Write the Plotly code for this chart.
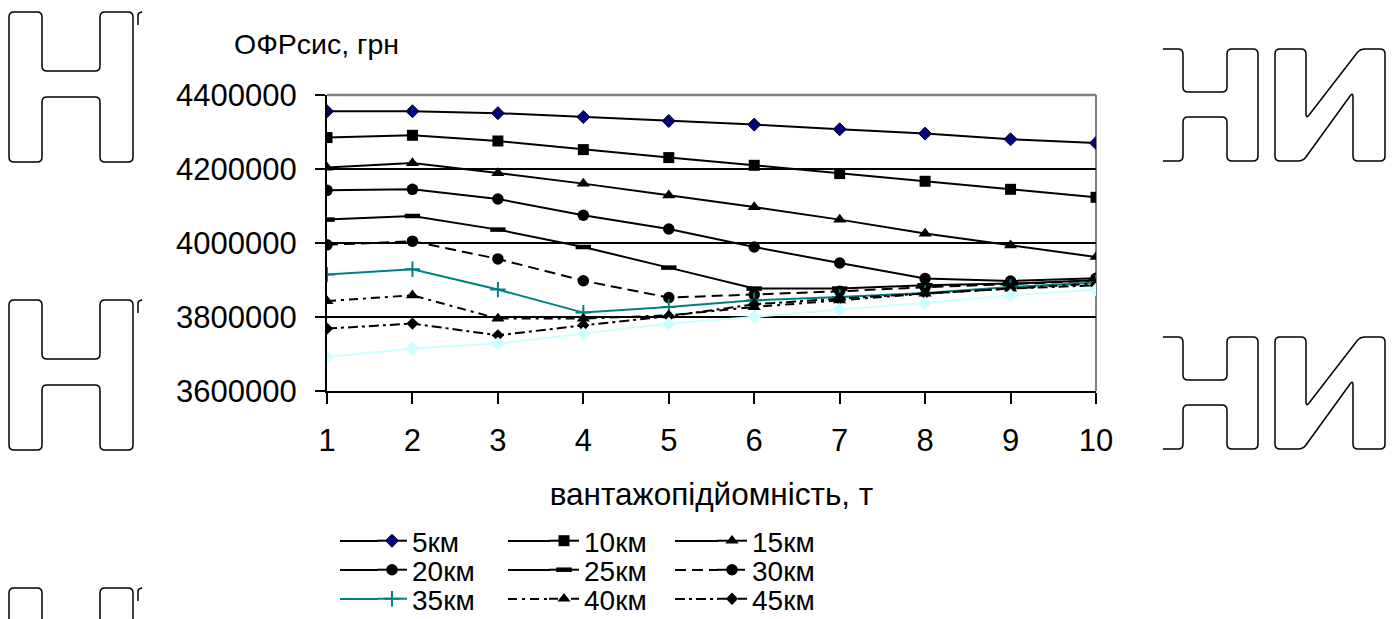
import plotly.graph_objects as go

# ---------------- data ----------------
capacity = [1, 2, 3, 4, 5, 6, 7, 8, 9, 10]
x_tick_labels = ["1", "2", "3", "4", "5", "6", "7", "8", "9", "10"]
y_tick_vals = [3600000, 3800000, 4000000, 4200000, 4400000]
y_tick_labels = ["3600000", "3800000", "4000000", "4200000", "4400000"]

s5 = [4356000, 4356000, 4351000, 4340500, 4329700, 4320000, 4307300, 4295700, 4280300, 4270300]
s10 = [4284900, 4291100, 4275700, 4252400, 4230800, 4210000, 4187600, 4166800, 4145100, 4123500]
s15 = [4203800, 4216200, 4189200, 4160500, 4128900, 4097300, 4063200, 4025400, 3993800, 3962200]
s20 = [4142400, 4145100, 4118900, 4074900, 4037800, 3989200, 3945900, 3903800, 3897300, 3904600]
s25 = [4063200, 4073000, 4036200, 3989200, 3933500, 3876800, 3876800, 3885700, 3890300, 3899200]
s30 = [3995000, 4005000, 3957000, 3898000, 3852400, 3860500, 3869500, 3880300, 3889700, 3897800]
s35 = [3914600, 3928900, 3874100, 3811900, 3827000, 3845100, 3854100, 3864900, 3881100, 3893000]
s40 = [3843200, 3858600, 3795700, 3795700, 3804600, 3827000, 3845100, 3863200, 3876800, 3890300]
s45 = [3768600, 3782200, 3750500, 3777600, 3801900, 3834300, 3849700, 3863200, 3876800, 3885700]
s50 = [3691900, 3714600, 3728100, 3755100, 3782200, 3800000, 3820000, 3837800, 3858600, 3874100]

series_names = ["5км", "10км", "15км", "20км", "25км", "30км", "35км", "40км", "45км", "50км"]
series_values = [s5, s10, s15, s20, s25, s30, s35, s40, s45, s50]

y_title = "ОФРсис, грн"
x_title = "вантажопідйомність, т"

# ---------------- styles ----------------
FONT = "Liberation Sans, Arial, sans-serif"
W, H = 1400, 619
ML, MR, MT, MB = 327, 304, 95, 228
PW, PH = W - ML - MR, H - MT - MB

line_styles = [
    dict(color="black", width=2),
    dict(color="black", width=2),
    dict(color="black", width=2),
    dict(color="black", width=2),
    dict(color="black", width=2),
    dict(color="black", width=2, dash="11px,6px"),
    dict(color="#008080", width=2),
    dict(color="black", width=2, dash="9px,5px,3px,5px"),
    dict(color="black", width=2, dash="10px,4px,3px,4px"),
    dict(color="#CCFFFF", width=2),
]
marker_styles = [
    dict(symbol="diamond", size=10, color="#000080", line=dict(color="black", width=1)),
    dict(symbol="square", size=11, color="black"),
    dict(symbol="triangle-up", size=11.5, color="black"),
    dict(symbol="circle", size=11.5, color="black"),
    dict(symbol="line-ew", size=11, color="black", line=dict(color="black", width=4.5)),
    dict(symbol="circle", size=11.5, color="black"),
    dict(symbol="cross-thin", size=11, color="#008080", line=dict(color="#008080", width=2)),
    dict(symbol="triangle-up", size=11.5, color="black"),
    dict(symbol="diamond", size=9.5, color="black"),
    dict(symbol="diamond", size=10.5, color="#CCFFFF"),
]

fig = go.Figure()

# legend grid (pixels): text start per column, row centres, sample-line start per column
col_text_x = [412, 584, 752]
col_line_x0 = [340, 508, 675]
row_y = [541, 570, 599]

def px2paper(px, py):
    return (px - ML) / PW, (H - MB - py) / PH

legend_layouts = {}
shapes = []
for i, (name, vals) in enumerate(zip(series_names, series_values)):
    kw = dict(x=capacity, y=vals, name=name, mode="lines+markers",
              line=line_styles[i], marker=marker_styles[i])
    if i < 9:
        lname = "legend" if i == 0 else f"legend{i + 1}"
        kw["legend"] = lname
        r, c = divmod(i, 3)
        lx, ly = px2paper(col_text_x[c] - 40, row_y[r])
        legend_layouts[lname] = dict(
            x=lx, y=ly, xanchor="left", yanchor="middle", xref="paper", yref="paper",
            bgcolor="rgba(0,0,0,0)", borderwidth=0,
            font=dict(family=FONT, size=28, color="black"),
        )
        # lengthen the short legend sample line to the left (decoration only)
        xa, ya = px2paper(col_line_x0[c], row_y[r])
        xb, _ = px2paper(col_text_x[c] - 34, row_y[r])
        shapes.append(dict(type="line", xref="paper", yref="paper", x0=xa, x1=xb, y0=ya, y1=ya,
                           line=line_styles[i], layer="above"))
    else:
        kw["showlegend"] = False
    fig.add_trace(go.Scatter(**kw))

# ---------------- watermark outlines (decoration) ----------------
def rounded_path(pts, r=5, closed=True):
    n = len(pts)
    def lerp(a, b, t):
        return (a[0] + (b[0] - a[0]) * t, a[1] + (b[1] - a[1]) * t)
    def dist(a, b):
        return ((a[0] - b[0]) ** 2 + (a[1] - b[1]) ** 2) ** 0.5
    def P(p):
        x, y = px2paper(*p)
        return f"{x:.5f},{y:.5f}"
    cmds = []
    if closed:
        segs = []
        for k in range(n):
            prev, cur, nxt = pts[k - 1], pts[k], pts[(k + 1) % n]
            a = lerp(cur, prev, min(r / dist(cur, prev), 0.5))
            b = lerp(cur, nxt, min(r / dist(cur, nxt), 0.5))
            segs.append((a, cur, b))
        cmds.append("M" + P(segs[0][2]))
        for k in list(range(1, n)) + [0]:
            a, c, b = segs[k]
            cmds.append("L" + P(a))
            cmds.append("Q" + P(c) + " " + P(b))
        cmds.append("Z")
    else:
        cmds.append("M" + P(pts[0]))
        for k in range(1, n - 1):
            prev, cur, nxt = pts[k - 1], pts[k], pts[k + 1]
            a = lerp(cur, prev, min(r / dist(cur, prev), 0.5))
            b = lerp(cur, nxt, min(r / dist(cur, nxt), 0.5))
            cmds.append("L" + P(a))
            cmds.append("Q" + P(cur) + " " + P(b))
        cmds.append("L" + P(pts[-1]))
    return " ".join(cmds)

def shift(pts, dy):
    return [(x, y + dy) for x, y in pts]

H_left = [(9, 12), (42, 12), (42, 71), (100, 71), (100, 12), (133, 12), (133, 162),
          (100, 162), (100, 97), (42, 97), (42, 162), (9, 162)]
H_right = [(1163, 49), (1183, 49), (1183, 92), (1227, 92), (1227, 49), (1258, 49), (1258, 161),
           (1227, 161), (1227, 117), (1183, 117), (1183, 161), (1163, 161)]
I_right = [(1275, 161), (1275, 49), (1306, 49), (1306, 119), (1360, 49), (1385, 49),
           (1385, 161), (1353, 161), (1353, 92), (1303, 161)]
hook = [(142, 12), (138, 13), (138, 25)]

for dy in (0, 288, 576):
    shapes.append(dict(type="path", path=rounded_path(shift(H_left, dy)), xref="paper", yref="paper",
                       line=dict(color="black", width=1.5), layer="below"))
    shapes.append(dict(type="path", path=rounded_path(shift(hook, dy), r=3, closed=False), xref="paper", yref="paper",
                       line=dict(color="black", width=1.5), layer="below"))
for dy in (0, 288):
    shapes.append(dict(type="path", path=rounded_path(shift(H_right, dy), closed=False), xref="paper", yref="paper",
                       line=dict(color="black", width=1.5), layer="below"))
    shapes.append(dict(type="path", path=rounded_path(shift(I_right, dy)), xref="paper", yref="paper",
                       line=dict(color="black", width=1.5), layer="below"))

# plot-area border: gray top (covers top gridline) and gray right edge
shapes.append(dict(type="line", xref="x domain", yref="y domain", x0=0, x1=1, y0=1, y1=1,
                   line=dict(color="#808080", width=2.5), layer="above"))
shapes.append(dict(type="line", xref="x domain", yref="y domain", x0=1, x1=1, y0=0, y1=1,
                   line=dict(color="#808080", width=2), layer="below"))

fig.update_layout(
    width=W, height=H,
    margin=dict(l=ML, r=MR, t=MT, b=MB, pad=0, autoexpand=False),
    paper_bgcolor="white", plot_bgcolor="white",
    font=dict(family=FONT, size=30, color="black"),
    shapes=shapes,
    **legend_layouts,
    annotations=[dict(text=y_title, xref="paper", yref="paper",
                      x=px2paper(232, 0)[0], y=px2paper(0, 44)[1],
                      xanchor="left", yanchor="middle", showarrow=False,
                      font=dict(family=FONT, size=28.5, color="black"))],
)

fig.update_xaxes(
    range=[1, 10], tickmode="array", tickvals=capacity, ticktext=x_tick_labels,
    showgrid=False, zeroline=False, showline=True, linecolor="black", linewidth=2,
    ticks="outside", ticklen=11, tickwidth=2, tickcolor="black",
    tickfont=dict(family=FONT, size=31, color="black"), ticklabelstandoff=10,
    title=dict(text=x_title, font=dict(family=FONT, size=31.5, color="black"), standoff=26),
)
fig.update_yaxes(
    range=[3600000, 4400000], tickmode="array", tickvals=y_tick_vals, ticktext=y_tick_labels,
    showgrid=True, gridcolor="black", gridwidth=2, zeroline=False,
    showline=True, linecolor="black", linewidth=2,
    ticks="outside", ticklen=10, tickwidth=2, tickcolor="black",
    tickfont=dict(family=FONT, size=31, color="black"), ticklabelstandoff=12,
)

fig.write_html("out.html")
